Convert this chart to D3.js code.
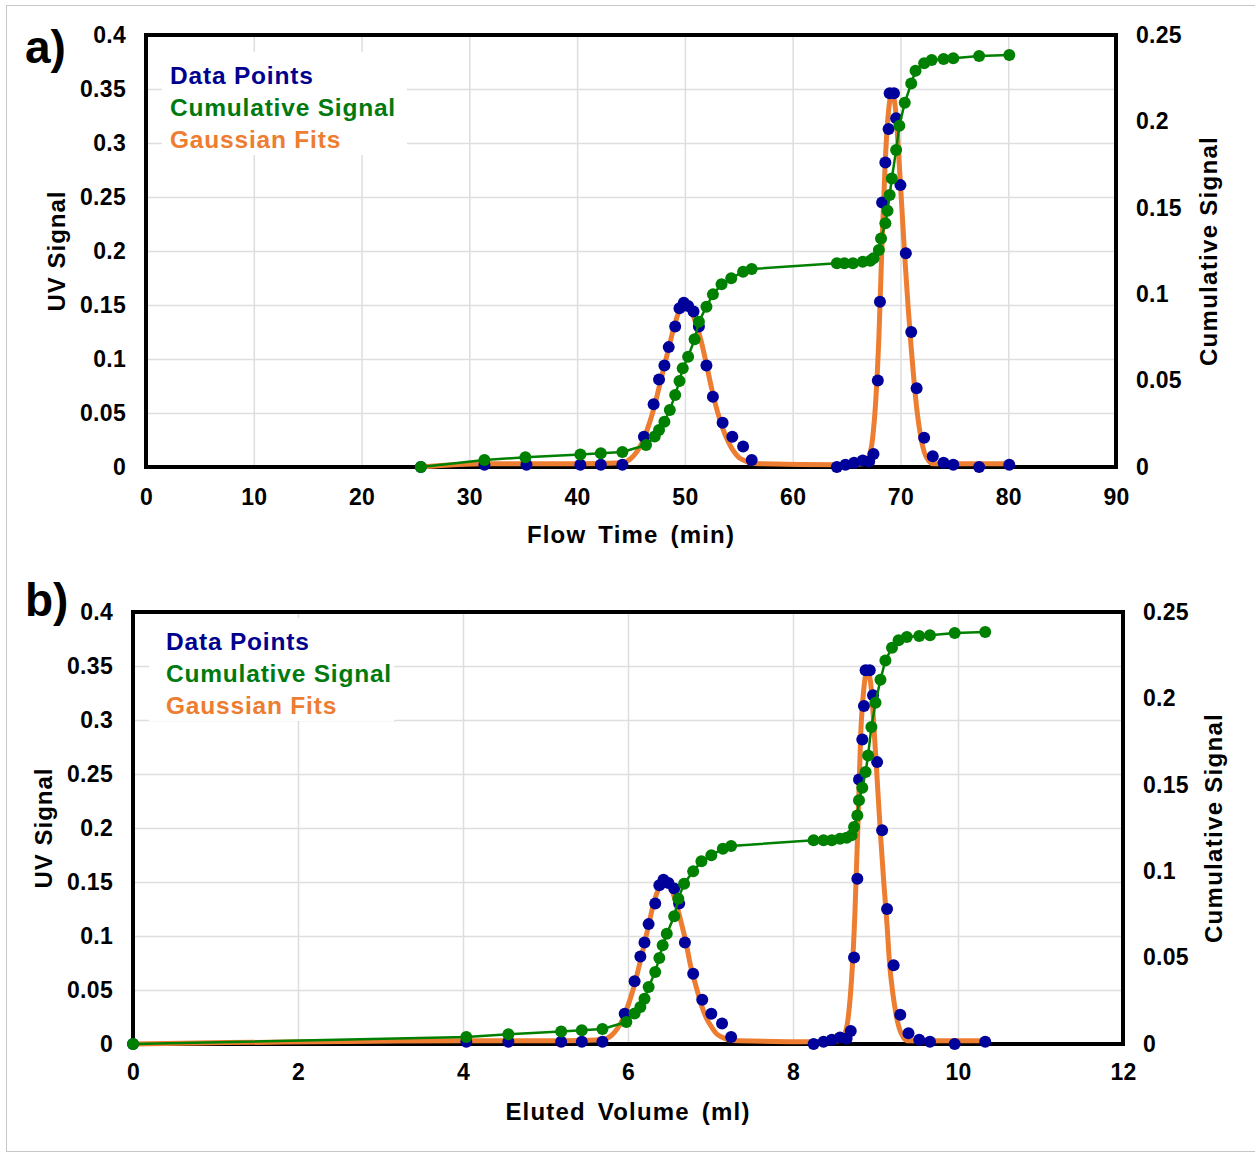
<!DOCTYPE html>
<html>
<head>
<meta charset="utf-8">
<script src="https://cdn.jsdelivr.net/npm/d3@7"></script>
<style>
  body { margin: 0; background: #fff; }
  svg text { font-family: "Liberation Sans", Arial, sans-serif; font-weight: bold; fill: #000; }
</style>
</head>
<body>
<div id="chart"></div>
<script>
// ---- data ----
// blue UV data points
const timeBlue = [25.5, 31.4, 35.3, 40.3, 42.2, 44.2,
  46.2, 47.1, 47.6, 48.1, 48.5, 49.1, 49.5, 49.9, 50.3, 50.8, 51.3, 52.0, 52.6, 53.5, 54.4, 55.4, 56.2,
  64.1, 64.9, 65.7, 66.5, 67.1, 67.5, 67.9, 68.1, 68.3, 68.6, 68.9, 69.0, 69.4, 69.6, 70.0, 70.5, 71.0, 71.5, 72.2, 73.0, 74.0, 74.9, 77.3, 80.1];
const volBlue = [0, 4.04, 4.55, 5.19, 5.44, 5.69,
  5.96, 6.08, 6.15, 6.20, 6.25, 6.33, 6.38, 6.43, 6.49, 6.56, 6.62, 6.69, 6.79, 6.90, 7.01, 7.14, 7.25,
  8.25, 8.37, 8.47, 8.57, 8.65, 8.70, 8.74, 8.78, 8.80, 8.84, 8.86, 8.88, 8.93, 8.97, 9.02, 9.08, 9.14, 9.22, 9.30, 9.40, 9.53, 9.66, 9.96, 10.33];
const uvBlue = [0, 0.002, 0.002, 0.002, 0.002, 0.002,
  0.028, 0.058, 0.081, 0.094, 0.111, 0.130, 0.147, 0.152, 0.149, 0.144, 0.130, 0.094, 0.065, 0.041, 0.028, 0.019, 0.0065,
  0.000, 0.002, 0.004, 0.006, 0.005, 0.012, 0.080, 0.153, 0.245, 0.282, 0.313, 0.346, 0.346, 0.323, 0.261, 0.198, 0.125, 0.073, 0.027, 0.010, 0.004, 0.002, 0.000, 0.002];

// green cumulative signal
const timeCum = [25.5, 31.4, 35.2, 40.3, 42.2, 44.2,
  46.4, 47.2, 47.6, 48.1, 48.6, 49.1, 49.5, 49.8, 50.3, 50.9, 51.3, 52.0, 52.6, 53.4, 54.3, 55.4, 56.2,
  64.1, 64.8, 65.6, 66.5, 67.2, 67.5, 68.0, 68.2, 68.6, 68.8, 69.0, 69.2, 69.6, 69.9, 70.4, 71.0, 71.4, 72.2, 72.9, 74.0, 74.9, 77.3, 80.1];
const volCum = [0, 4.04, 4.55, 5.19, 5.44, 5.69,
  5.98, 6.08, 6.15, 6.20, 6.25, 6.33, 6.38, 6.42, 6.47, 6.56, 6.61, 6.68, 6.79, 6.89, 7.01, 7.15, 7.25,
  8.25, 8.37, 8.47, 8.57, 8.65, 8.71, 8.74, 8.78, 8.80, 8.84, 8.88, 8.91, 8.95, 9.00, 9.06, 9.12, 9.20, 9.28, 9.38, 9.53, 9.66, 9.96, 10.33];
const cumSignal = [0, 0.0040, 0.0056, 0.0073, 0.0079, 0.0087,
  0.0127, 0.0176, 0.0214, 0.0262, 0.0330, 0.0417, 0.0498, 0.0571, 0.0638, 0.0739, 0.0841, 0.0928, 0.0999, 0.1057, 0.1092, 0.1130, 0.1146,
  0.1179, 0.1179, 0.1179, 0.1188, 0.1194, 0.1208, 0.1256, 0.1323, 0.1410, 0.1483, 0.1574, 0.1670, 0.1834, 0.1975, 0.2108, 0.2220, 0.2293, 0.2336, 0.2355, 0.2361, 0.2365, 0.2378, 0.2384];

// orange gaussian fit curve (sampled along the drawn line)
const timeFit = [25.5, 31.4, 35.3, 40.3, 44.2, 45.0, 46.0, 47.0, 48.0, 48.5, 49.0, 49.5, 50.0, 50.5, 51.0, 51.5, 52.0, 52.5, 53.0, 53.5, 54.0, 54.5, 55.0, 55.5, 56.0, 57.0,
  64.1, 66.5, 67.0, 67.4, 67.7, 68.0, 68.3, 68.6, 68.9, 69.2, 69.5, 69.8, 70.1, 70.4, 70.7, 71.0, 71.3, 71.6, 71.9, 72.2, 72.6, 73.0, 80.1];
const volFit = [0, 4.04, 4.55, 5.19, 5.69, 5.80, 5.93, 6.06, 6.19, 6.25, 6.31, 6.38, 6.44, 6.51, 6.57, 6.63, 6.70, 6.76, 6.83, 6.89, 6.95, 7.02, 7.08, 7.15, 7.21, 7.34,
  8.25, 8.55, 8.62, 8.67, 8.71, 8.75, 8.79, 8.82, 8.86, 8.90, 8.94, 8.98, 9.02, 9.06, 9.10, 9.14, 9.17, 9.21, 9.25, 9.29, 9.34, 9.39, 10.33];
const uvFit = [0, 0.003, 0.003, 0.003, 0.004, 0.008, 0.022, 0.050, 0.090, 0.110, 0.130, 0.145, 0.150, 0.146, 0.134, 0.117, 0.095, 0.072, 0.052, 0.036, 0.024, 0.015, 0.009, 0.006, 0.004, 0.003,
  0.002, 0.003, 0.008, 0.025, 0.060, 0.120, 0.210, 0.285, 0.330, 0.346, 0.335, 0.295, 0.245, 0.195, 0.150, 0.110, 0.075, 0.047, 0.027, 0.014, 0.006, 0.003, 0.003];

// tick labels
const timeTicks = [0, 10, 20, 30, 40, 50, 60, 70, 80, 90];
const volTicks = [0, 2, 4, 6, 8, 10, 12];
const uvTicks = [0, 0.05, 0.1, 0.15, 0.2, 0.25, 0.3, 0.35, 0.4];
const cumTicks = [0, 0.05, 0.1, 0.15, 0.2, 0.25];

const legendItems = [
  { label: "Data Points", color: "#00008f" },
  { label: "Cumulative Signal", color: "#007a0f" },
  { label: "Gaussian Fits", color: "#ed7d31" },
];

const BLUE = "#00009a", GREEN = "#008000", ORANGE = "#ed7d31", GRID = "#dedede";

const svg = d3.select("#chart").append("svg")
  .attr("width", 1255)
  .attr("height", 1155);

svg.append("rect")
  .attr("x", 6.5).attr("y", 5.5)
  .attr("width", 1252).attr("height", 1146)
  .attr("fill", "none")
  .attr("stroke", "#c6c6c6");

function styleTicks(sel) {
  sel.select(".domain").remove();
  sel.selectAll("text")
    .style("font-size", "23px")
    .attr("letter-spacing", "0.3px")
    .attr("fill", "#000");
}

function drawPanel(p) {
  const g = svg.append("g").attr("transform", `translate(${p.left},${p.top})`);
  const w = p.width, h = p.height;

  const x = d3.scaleLinear().domain(p.xDomain).range([0, w]);
  const y = d3.scaleLinear().domain([0, 0.4]).range([h, 0]);
  const y2 = d3.scaleLinear().domain([0, 0.25]).range([h, 0]);

  // gridlines
  g.append("g")
    .attr("transform", `translate(0,${h})`)
    .call(d3.axisBottom(x).tickValues(p.xTicks).tickSize(-h).tickFormat(""))
    .call(s => s.select(".domain").remove())
    .selectAll("line").attr("stroke", GRID).attr("stroke-width", 1.5);
  g.append("g")
    .call(d3.axisLeft(y).tickValues(uvTicks).tickSize(-w).tickFormat(""))
    .call(s => s.select(".domain").remove())
    .selectAll("line").attr("stroke", GRID).attr("stroke-width", 1.5);

  // legend background hides gridlines
  g.append("rect")
    .attr("x", 16).attr("y", p.legendY - 32)
    .attr("width", 245).attr("height", 103)
    .attr("fill", "#fff");

  // axis labels
  g.append("g")
    .attr("transform", `translate(0,${h})`)
    .call(d3.axisBottom(x).tickValues(p.xTicks).tickSize(0).tickPadding(p.xPad).tickFormat(d3.format("")))
    .call(styleTicks);

  g.append("g")
    .call(d3.axisLeft(y).tickValues(uvTicks).tickSize(0).tickPadding(p.yPad).tickFormat(d3.format("")))
    .call(styleTicks);

  g.append("g")
    .attr("transform", `translate(${w},0)`)
    .call(d3.axisRight(y2).tickValues(cumTicks).tickSize(0).tickPadding(p.yPad).tickFormat(d3.format("")))
    .call(styleTicks);

  // frame
  g.append("rect")
    .attr("width", w).attr("height", h)
    .attr("fill", "none")
    .attr("stroke", "#000")
    .attr("stroke-width", 4);

  // gaussian fit
  const fit = p.fitX.map((v, i) => [v, uvFit[i]]);
  g.append("path")
    .datum(fit)
    .attr("fill", "none")
    .attr("stroke", ORANGE)
    .attr("stroke-width", 5)
    .attr("stroke-linejoin", "round")
    .attr("d", d3.line().curve(d3.curveMonotoneX).x(d => x(d[0])).y(d => y(d[1])));

  // data points
  const pts = p.blueX.map((v, i) => [v, uvBlue[i]]);
  g.selectAll(".dot")
    .data(pts)
    .enter()
    .append("circle")
    .attr("cx", d => x(d[0]))
    .attr("cy", d => y(d[1]))
    .attr("r", 6)
    .attr("fill", BLUE);

  // cumulative signal
  const cum = p.cumX.map((v, i) => [v, cumSignal[i]]);
  g.append("path")
    .datum(cum)
    .attr("fill", "none")
    .attr("stroke", GREEN)
    .attr("stroke-width", 2.5)
    .attr("d", d3.line().x(d => x(d[0])).y(d => y2(d[1])));
  g.selectAll(".cum")
    .data(cum)
    .enter()
    .append("circle")
    .attr("cx", d => x(d[0]))
    .attr("cy", d => y2(d[1]))
    .attr("r", 6)
    .attr("fill", GREEN);

  // legend
  legendItems.forEach((it, i) => {
    g.append("text")
      .attr("x", p.legendX)
      .attr("y", p.legendY + i * 32)
      .style("font-size", "24.5px")
      .attr("letter-spacing", "0.8px")
      .style("fill", it.color)
      .text(it.label);
  });

  // titles
  g.append("text")
    .attr("x", p.xTitleX)
    .attr("y", h + p.xTitleDy)
    .attr("text-anchor", "middle")
    .style("font-size", "24px")
    .attr("letter-spacing", "1.2px")
    .attr("word-spacing", "4px")
    .text(p.xTitle);
  g.append("text")
    .attr("transform", `translate(${p.yTitleX},${h / 2}) rotate(-90)`)
    .attr("text-anchor", "middle")
    .style("font-size", "24px")
    .attr("letter-spacing", "1px")
    .text("UV Signal");
  g.append("text")
    .attr("transform", `translate(${p.y2TitleX},${h / 2}) rotate(-90)`)
    .attr("text-anchor", "middle")
    .style("font-size", "24px")
    .attr("letter-spacing", "1.3px")
    .text("Cumulative Signal");

  svg.append("text")
    .attr("x", 25)
    .attr("y", p.top + p.tagDy)
    .style("font-size", "46px")
    .text(p.tag);
}

drawPanel({
  left: 146, top: 35, width: 970, height: 432,
  xDomain: [0, 90], xTicks: timeTicks,
  blueX: timeBlue, cumX: timeCum, fitX: timeFit,
  xPad: 22, yPad: 20, legendX: 24, legendY: 49,
  xTitle: "Flow Time (min)", xTitleX: 485, xTitleDy: 76,
  yTitleX: -81, y2TitleX: 1071,
  tag: "a)", tagDy: 28
});

drawPanel({
  left: 133, top: 612, width: 990, height: 432,
  xDomain: [0, 12], xTicks: volTicks,
  blueX: volBlue, cumX: volCum, fitX: volFit,
  xPad: 20, yPad: 20, legendX: 33, legendY: 38,
  xTitle: "Eluted Volume (ml)", xTitleX: 495, xTitleDy: 76,
  yTitleX: -81, y2TitleX: 1089,
  tag: "b)", tagDy: 4
});
</script>
</body>
</html>
